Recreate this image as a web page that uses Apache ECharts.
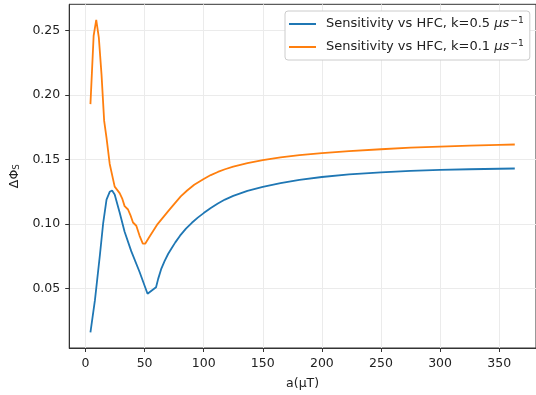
<!DOCTYPE html>
<html>
<head>
<meta charset="utf-8">
<script src="https://cdn.jsdelivr.net/npm/echarts@6/dist/echarts.min.js"></script>
<style>html,body{margin:0;padding:0;background:#fff}#c{width:536px;height:395px}</style>
</head>
<body>
<div id="c"></div>
<script>
const blueX = [4.2, 8, 12.2, 15, 17.8, 20.5, 22.5, 24.7, 28.9, 33.1, 38.7, 45.7, 52.5, 59.7, 61.5, 64, 67, 70, 73, 76, 80, 85, 90, 95, 100, 106, 112, 118, 125, 137, 150, 165, 181, 200, 223, 250, 275, 300, 325, 350, 363.2];
const blueY = [0.016, 0.041, 0.076, 0.101, 0.119, 0.125, 0.126, 0.123, 0.109, 0.094, 0.079, 0.063, 0.046, 0.051, 0.0575, 0.065, 0.0715, 0.077, 0.0815, 0.0858, 0.091, 0.0965, 0.101, 0.105, 0.1085, 0.1125, 0.116, 0.119, 0.1218, 0.1258, 0.1288, 0.1318, 0.1343, 0.1365, 0.1385, 0.1401, 0.1412, 0.1420, 0.1425, 0.1429, 0.1431];
const orangeX = [4.2, 6.9, 9.1, 11.3, 13.6, 15.8, 17.8, 20.5, 24.7, 28.9, 31, 33.1, 36, 38, 40.2, 43, 45.7, 48.5, 50.5, 54, 57.5, 61, 65.5, 70, 75, 80.6, 86, 92, 100, 106, 112, 118, 125, 137, 150, 165, 181, 200, 223, 250, 275, 300, 325, 350, 363.2];
const orangeY = [0.193, 0.246, 0.2583, 0.2445, 0.2155, 0.180, 0.1668, 0.1466, 0.129, 0.124, 0.120, 0.1139, 0.1113, 0.107, 0.1012, 0.0987, 0.0911, 0.0848, 0.0848, 0.0899, 0.095, 0.100, 0.105, 0.110, 0.1155, 0.1214, 0.126, 0.1305, 0.135, 0.138, 0.1404, 0.1425, 0.1445, 0.1472, 0.1495, 0.1517, 0.1535, 0.155, 0.1566, 0.158, 0.1592, 0.1601, 0.1608, 0.1614, 0.1617];
const xTicks = [0, 50, 100, 150, 200, 250, 300, 350];
const yTicks = [0.05, 0.10, 0.15, 0.20, 0.25];
const seriesNames = ['Sensitivity vs HFC, k=0.5 μs^-1', 'Sensitivity vs HFC, k=0.1 μs^-1'];
const legendParts = [['Sensitivity vs HFC, k=0.5 ', 'μs', '−1'], ['Sensitivity vs HFC, k=0.1 ', 'μs', '−1']];

const FONT = 'DejaVu Sans';
const FS = 12.5;
const chart = echarts.init(document.getElementById('c'), null, {renderer: 'canvas'});
const pair = (xs, ys) => xs.map((x, i) => [x, ys[i]]);

chart.setOption({
  animation: false,
  backgroundColor: '#fff',
  textStyle: {fontFamily: FONT},
  grid: {left: 68, top: 4.3, width: 470, height: 350, show: true, borderColor: '#333', borderWidth: 1, backgroundColor: 'transparent'},
  legend: {
    orient: 'vertical', left: 285, top: 11,
    padding: [5, 6, 5, 4],
    itemGap: 7, itemWidth: 27, itemHeight: 2,
    backgroundColor: '#fff', borderColor: '#cccccc', borderWidth: 1, borderRadius: 3,
    data: [{name: seriesNames[0], icon: 'rect'}, {name: seriesNames[1], icon: 'rect'}],
    formatter: name => {
      const p = legendParts[seriesNames.indexOf(name)];
      return '{a|' + p[0] + '}{i|' + p[1] + '}{s|' + p[2] + '}';
    },
    textStyle: {
      fontFamily: FONT, fontSize: 13, color: '#222',
      rich: {
        a: {fontFamily: FONT, fontSize: 13, color: '#222', lineHeight: 15, padding: [0, 0, 0, 5]},
        i: {fontFamily: FONT, fontSize: 13, fontStyle: 'italic', color: '#222', lineHeight: 15},
        s: {fontFamily: FONT, fontSize: 9.2, color: '#222', padding: [0, 0, 7, 1], lineHeight: 15}
      }
    }
  },
  xAxis: {
    type: 'value', min: -13.75, max: 381.15,
    name: 'a(μT)', nameLocation: 'middle', nameGap: 29,
    nameTextStyle: {fontFamily: FONT, fontSize: FS, color: '#222', verticalAlign: 'top'},
    axisLine: {show: true, onZero: false, lineStyle: {color: '#333', width: 1}},
    axisTick: {show: true, length: 4, lineStyle: {color: '#333', width: 1}, customValues: xTicks},
    axisLabel: {fontFamily: FONT, fontSize: FS, color: '#222', margin: 9, customValues: xTicks, formatter: v => String(v)},
    splitLine: {show: true, lineStyle: {color: '#ebebeb', width: 1}}
  },
  yAxis: {
    type: 'value', min: 0.0039, max: 0.2704,
    name: '{a|ΔΦ}{b|S}', nameLocation: 'middle', nameGap: 38, nameRotate: 90,
    nameTextStyle: {fontFamily: FONT, fontSize: FS, color: '#222',
      rich: {a: {fontFamily: FONT, fontSize: FS, color: '#222'}, b: {fontFamily: FONT, fontSize: 8.8, color: '#222', padding: [5, 0, 0, 0]}}},
    axisLine: {show: true, onZero: false, lineStyle: {color: '#333', width: 1}},
    axisTick: {show: true, length: 4, lineStyle: {color: '#333', width: 1}, customValues: yTicks},
    axisLabel: {fontFamily: FONT, fontSize: FS, color: '#222', margin: 9, customValues: yTicks, formatter: v => v.toFixed(2)},
    splitLine: {show: true, lineStyle: {color: '#ebebeb', width: 1}}
  },
  series: [
    {name: seriesNames[0], type: 'line', data: pair(blueX, blueY), showSymbol: false, symbol: 'none', smooth: false,
     lineStyle: {color: '#1f77b4', width: 1.8}, itemStyle: {color: '#1f77b4'}, z: 2},
    {name: seriesNames[1], type: 'line', data: pair(orangeX, orangeY), showSymbol: false, symbol: 'none', smooth: false,
     lineStyle: {color: '#ff7f0e', width: 1.8}, itemStyle: {color: '#ff7f0e'}, z: 3}
  ]
});
</script>
</body>
</html>
